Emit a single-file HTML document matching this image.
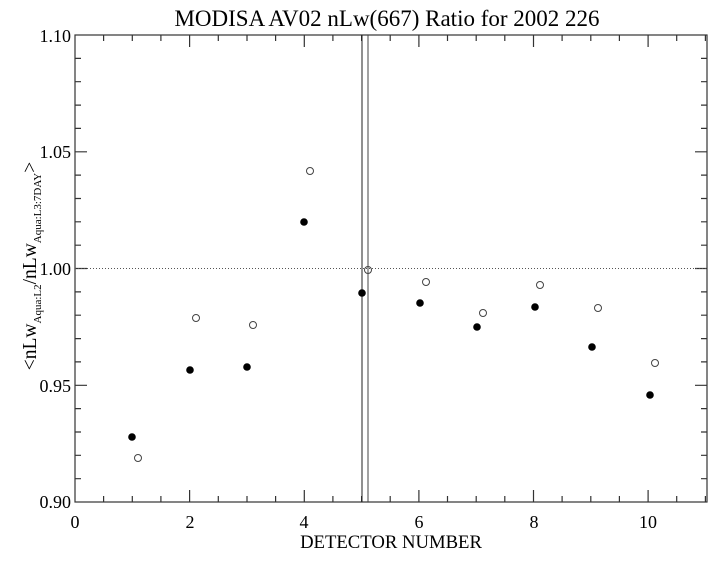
<!DOCTYPE html>
<html><head><style>body{margin:0;background:#fff}</style></head><body>
<svg width="718" height="556" xmlns="http://www.w3.org/2000/svg" font-family="Liberation Serif, serif">
<rect width="718" height="556" fill="#fff"/>
<text x="387" y="26" font-size="23" text-anchor="middle">MODISA AV02 nLw(667) Ratio for 2002 226</text>
<g stroke="#333" stroke-width="1.2" fill="none">
<rect x="75" y="35" width="632" height="467"/>
<path d="M132.3,502v-6M132.3,35v6M247,502v-6M247,35v6M361.6,502v-6M361.6,35v6M476.2,502v-6M476.2,35v6M590.8,502v-6M590.8,35v6M705.4,502v-6M705.4,35v6
M103.6,502v-6M103.6,35v6M160.9,502v-6M160.9,35v6M218.3,502v-6M218.3,35v6M275.6,502v-6M275.6,35v6M332.9,502v-6M332.9,35v6M390.2,502v-6M390.2,35v6M447.5,502v-6M447.5,35v6M504.8,502v-6M504.8,35v6M562.1,502v-6M562.1,35v6M619.4,502v-6M619.4,35v6M676.7,502v-6M676.7,35v6
M189.6,502v-12M189.6,35v12M304.3,502v-12M304.3,35v12M418.9,502v-12M418.9,35v12M533.5,502v-12M533.5,35v12M648.1,502v-12M648.1,35v12
M75,151.8h12M707,151.8h-12M75,268.5h12M707,268.5h-12M75,385.3h12M707,385.3h-12
M75,58.4h6M707,58.4h-6M75,81.7h6M707,81.7h-6M75,105.1h6M707,105.1h-6M75,128.4h6M707,128.4h-6
M75,175.1h6M707,175.1h-6M75,198.5h6M707,198.5h-6M75,221.8h6M707,221.8h-6M75,245.2h6M707,245.2h-6
M75,291.9h6M707,291.9h-6M75,315.2h6M707,315.2h-6M75,338.6h6M707,338.6h-6M75,361.9h6M707,361.9h-6
M75,408.6h6M707,408.6h-6M75,432h6M707,432h-6M75,455.3h6M707,455.3h-6M75,478.7h6M707,478.7h-6"/>
</g>
<line x1="75" y1="268.5" x2="707" y2="268.5" stroke="#555" stroke-dasharray="1,2"/>
<line x1="362" y1="35" x2="362" y2="502" stroke="#222"/>
<line x1="368" y1="35" x2="368" y2="502" stroke="#444"/>
<g font-size="18" text-anchor="end">
<text x="71" y="42">1.10</text><text x="71" y="158">1.05</text><text x="71" y="275">1.00</text><text x="71" y="392">0.95</text><text x="71" y="508">0.90</text>
</g>
<g font-size="18" text-anchor="middle">
<text x="75" y="528">0</text><text x="190" y="528">2</text><text x="304" y="528">4</text><text x="419" y="528">6</text><text x="534" y="528">8</text><text x="648" y="528">10</text>
<text x="391" y="548" font-size="18.7">DETECTOR NUMBER</text>
</g>
<text transform="translate(36,266) rotate(-90)" font-size="19.5" text-anchor="middle">&lt;nLw<tspan font-size="11" dy="5">Aqua:L2</tspan><tspan dy="-5">/nLw</tspan><tspan font-size="11" dy="5">Aqua:L3:7DAY</tspan><tspan dy="-5">&gt;</tspan></text>
<g fill="#000">
<circle cx="132" cy="437" r="3.8"/><circle cx="190" cy="370" r="3.8"/><circle cx="247" cy="367" r="3.8"/><circle cx="304" cy="222" r="3.8"/><circle cx="362" cy="293" r="3.8"/><circle cx="420" cy="303" r="3.8"/><circle cx="477" cy="327" r="3.8"/><circle cx="535" cy="307" r="3.8"/><circle cx="592" cy="347" r="3.8"/><circle cx="650" cy="395" r="3.8"/>
</g>
<g fill="none" stroke="#444" stroke-width="1">
<circle cx="138" cy="458" r="3.5"/><circle cx="196" cy="318" r="3.5"/><circle cx="253" cy="325" r="3.5"/><circle cx="310" cy="171" r="3.5"/><circle cx="368" cy="270" r="3.5"/><circle cx="426" cy="282" r="3.5"/><circle cx="483" cy="313" r="3.5"/><circle cx="540" cy="285" r="3.5"/><circle cx="598" cy="308" r="3.5"/><circle cx="655" cy="363" r="3.5"/>
</g>
</svg>
</body></html>
